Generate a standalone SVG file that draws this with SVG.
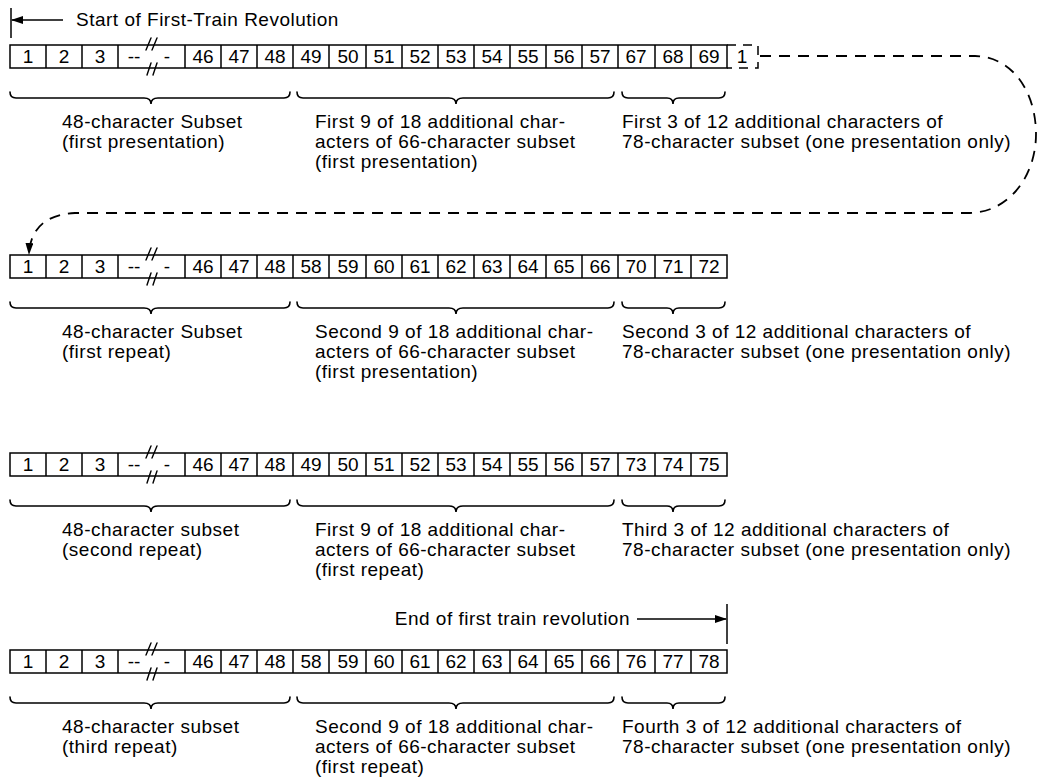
<svg xmlns="http://www.w3.org/2000/svg" width="1038" height="779" viewBox="0 0 1038 779">
<style>
.bg{fill:#fff}
.cell{fill:none;stroke:#000;stroke-width:1.5}
.num{font-family:"Liberation Sans",Arial,sans-serif;font-size:19px;fill:#000;text-anchor:middle}
.lbl{font-family:"Liberation Sans",Arial,sans-serif;font-size:19px;fill:#000;letter-spacing:0.5px}
.brace{fill:none;stroke:#000;stroke-width:1.6;stroke-linecap:round}
.brk{fill:none;stroke:#000;stroke-width:1.4;stroke-linecap:round}
.conn{fill:none;stroke:#000;stroke-width:1.5}
.dash{fill:none;stroke:#000;stroke-width:1.8;stroke-dasharray:11 8}
</style>
<defs>
<marker id="ah" markerUnits="userSpaceOnUse" markerWidth="12" markerHeight="8" refX="11" refY="4" orient="auto">
<path d="M0,0 L12,4 L0,8 Z" fill="#000"/>
</marker>
<g id="rowcells">
<rect class="cell" x="10" y="0" width="717" height="23"/>
<path class="cell" d="M46 0V23M82 0V23M118 0V23M185 0V23M221 0V23M257 0V23M293 0V23M329 0V23M366 0V23M402 0V23M438 0V23M474 0V23M510 0V23M546 0V23M582 0V23M618 0V23M655 0V23M691 0V23"/>
<path class="brk" d="M146 5L151 -7M152 5L157 -7M147 30L151 18M153 30L157 18"/>
<text class="num" x="28" y="18">1</text>
<text class="num" x="64" y="18">2</text>
<text class="num" x="100" y="18">3</text>
<text class="num" x="134" y="18">--</text>
<text class="num" x="167" y="18">-</text>
<text class="num" x="203" y="18">46</text>
<text class="num" x="239" y="18">47</text>
<text class="num" x="275" y="18">48</text>
</g>
<g id="braces">
<path class="brace" d="M10 0Q10 6 16 6L144 6Q151 6 151 12Q151 6 158 6L284 6Q290 6 290 0"/>
<path class="brace" d="M297 0Q297 6 303 6L449 6Q456 6 456 12Q456 6 463 6L608 6Q614 6 614 0"/>
<path class="brace" d="M622 0Q622 6 628 6L667 6Q673 6 673 12Q673 6 679 6L719 6Q725 6 725 0"/>
</g>
</defs>
<rect class="bg" x="0" y="0" width="1038" height="779"/>

<g id="connectors">
<path class="conn" d="M11 8V38"/>
<path class="conn" d="M63 20H12" marker-end="url(#ah)"/>
<path class="dash" d="M760 56L975 56C1015 57 1036 95 1036 134C1036 175 1010 212 970 213L75 213C45 214 30 230 29 254" marker-end="url(#ah)"/>
<path class="conn" d="M727 604V644"/>
<path class="conn" d="M637 619H726" marker-end="url(#ah)"/>
</g>

<g id="title">
<text class="lbl" x="76" y="26">Start of First-Train Revolution</text>
</g>

<g id="row1">
<use href="#rowcells" x="0" y="45"/>
<path class="dash" d="M727 45H758V68H727" style="stroke-width:1.5;stroke-dasharray:9 7"/>
<g transform="translate(0,45)">
<text class="num" x="311" y="18">49</text>
<text class="num" x="348" y="18">50</text>
<text class="num" x="384" y="18">51</text>
<text class="num" x="420" y="18">52</text>
<text class="num" x="456" y="18">53</text>
<text class="num" x="492" y="18">54</text>
<text class="num" x="528" y="18">55</text>
<text class="num" x="564" y="18">56</text>
<text class="num" x="600" y="18">57</text>
<text class="num" x="636" y="18">67</text>
<text class="num" x="673" y="18">68</text>
<text class="num" x="709" y="18">69</text>
<text class="num" x="742" y="18">1</text>
</g>
<use href="#braces" x="0" y="92"/>
<text class="lbl" x="62" y="128">48-character Subset</text>
<text class="lbl" x="62" y="148">(first presentation)</text>
<text class="lbl" x="315" y="128">First 9 of 18 additional char-</text>
<text class="lbl" x="315" y="148">acters of 66-character subset</text>
<text class="lbl" x="315" y="168">(first presentation)</text>
<text class="lbl" x="622" y="128">First 3 of 12 additional characters of</text>
<text class="lbl" x="622" y="148">78-character subset (one presentation only)</text>
</g>

<g id="row2">
<use href="#rowcells" x="0" y="255"/>
<g transform="translate(0,255)">
<text class="num" x="311" y="18">58</text>
<text class="num" x="348" y="18">59</text>
<text class="num" x="384" y="18">60</text>
<text class="num" x="420" y="18">61</text>
<text class="num" x="456" y="18">62</text>
<text class="num" x="492" y="18">63</text>
<text class="num" x="528" y="18">64</text>
<text class="num" x="564" y="18">65</text>
<text class="num" x="600" y="18">66</text>
<text class="num" x="636" y="18">70</text>
<text class="num" x="673" y="18">71</text>
<text class="num" x="709" y="18">72</text>
</g>
<use href="#braces" x="0" y="302"/>
<text class="lbl" x="62" y="338">48-character Subset</text>
<text class="lbl" x="62" y="358">(first repeat)</text>
<text class="lbl" x="315" y="338">Second 9 of 18 additional char-</text>
<text class="lbl" x="315" y="358">acters of 66-character subset</text>
<text class="lbl" x="315" y="378">(first presentation)</text>
<text class="lbl" x="622" y="338">Second 3 of 12 additional characters of</text>
<text class="lbl" x="622" y="358">78-character subset (one presentation only)</text>
</g>

<g id="row3">
<use href="#rowcells" x="0" y="453"/>
<g transform="translate(0,453)">
<text class="num" x="311" y="18">49</text>
<text class="num" x="348" y="18">50</text>
<text class="num" x="384" y="18">51</text>
<text class="num" x="420" y="18">52</text>
<text class="num" x="456" y="18">53</text>
<text class="num" x="492" y="18">54</text>
<text class="num" x="528" y="18">55</text>
<text class="num" x="564" y="18">56</text>
<text class="num" x="600" y="18">57</text>
<text class="num" x="636" y="18">73</text>
<text class="num" x="673" y="18">74</text>
<text class="num" x="709" y="18">75</text>
</g>
<use href="#braces" x="0" y="500"/>
<text class="lbl" x="62" y="536">48-character subset</text>
<text class="lbl" x="62" y="556">(second repeat)</text>
<text class="lbl" x="315" y="536">First 9 of 18 additional char-</text>
<text class="lbl" x="315" y="556">acters of 66-character subset</text>
<text class="lbl" x="315" y="576">(first repeat)</text>
<text class="lbl" x="622" y="536">Third 3 of 12 additional characters of</text>
<text class="lbl" x="622" y="556">78-character subset (one presentation only)</text>
</g>

<g id="end-label">
<text class="lbl" x="630" y="625" text-anchor="end">End of first train revolution</text>
</g>

<g id="row4">
<use href="#rowcells" x="0" y="650"/>
<g transform="translate(0,650)">
<text class="num" x="311" y="18">58</text>
<text class="num" x="348" y="18">59</text>
<text class="num" x="384" y="18">60</text>
<text class="num" x="420" y="18">61</text>
<text class="num" x="456" y="18">62</text>
<text class="num" x="492" y="18">63</text>
<text class="num" x="528" y="18">64</text>
<text class="num" x="564" y="18">65</text>
<text class="num" x="600" y="18">66</text>
<text class="num" x="636" y="18">76</text>
<text class="num" x="673" y="18">77</text>
<text class="num" x="709" y="18">78</text>
</g>
<use href="#braces" x="0" y="697"/>
<text class="lbl" x="62" y="733">48-character subset</text>
<text class="lbl" x="62" y="753">(third repeat)</text>
<text class="lbl" x="315" y="733">Second 9 of 18 additional char-</text>
<text class="lbl" x="315" y="753">acters of 66-character subset</text>
<text class="lbl" x="315" y="773">(first repeat)</text>
<text class="lbl" x="622" y="733">Fourth 3 of 12 additional characters of</text>
<text class="lbl" x="622" y="753">78-character subset (one presentation only)</text>
</g>
</svg>
